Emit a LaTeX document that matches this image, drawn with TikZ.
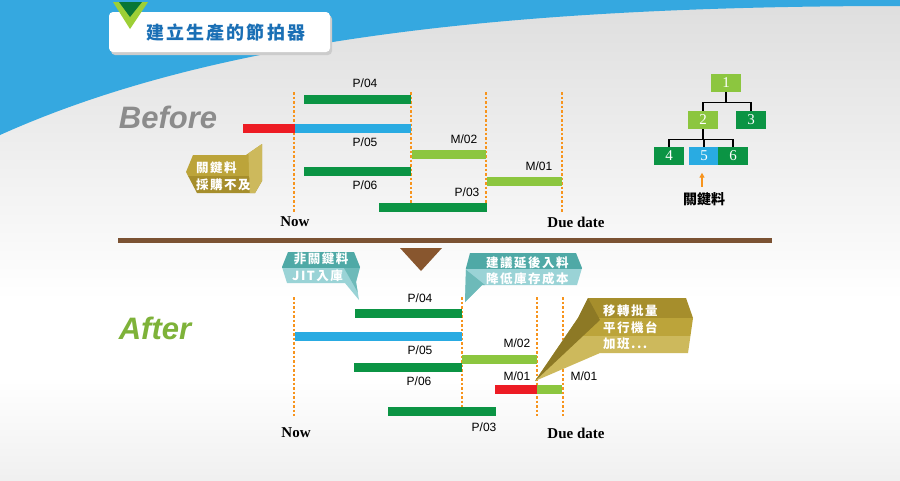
\documentclass[tikz,border=0pt]{standalone}
\usepackage{fontspec}
\setmainfont{Liberation Serif}
\setsansfont{Liberation Sans}
\newfontfamily\cjk{Noto Sans CJK TC}
\newfontfamily\cjkwide[LetterSpace=12]{Noto Sans CJK TC}
\newfontfamily\cjktitle[LetterSpace=12]{Noto Sans CJK TC}
\usetikzlibrary{arrows.meta}
\definecolor{skyblue}{HTML}{35A8E0}
\definecolor{titleblue}{HTML}{1A6FB5}
\definecolor{pgreen}{HTML}{0B9444}
\definecolor{mgreen}{HTML}{8CC63F}
\definecolor{pblue}{HTML}{29ABE2}
\definecolor{pred}{HTML}{ED1C24}
\definecolor{dueorange}{HTML}{F7941D}
\definecolor{sepbrown}{HTML}{7B5233}
\definecolor{goldA}{HTML}{A68E2C}
\definecolor{goldB}{HTML}{BCA43A}
\definecolor{goldC}{HTML}{CDB95C}
\definecolor{tealA}{HTML}{4FA9A6}
\definecolor{tealB}{HTML}{9AD3D6}
\tikzset{
  tick/.style={draw=dueorange, line width=2.4pt, dash pattern=on 2.5pt off 2pt},
  bar/.style={line width=9pt},
  lbl/.style={font=\sffamily\fontsize{12}{14}\selectfont},
  axis/.style={font=\bfseries\fontsize{15}{17}\selectfont},
  part/.style={minimum width=30pt, minimum height=18pt, inner sep=0pt, text=white, font=\fontsize{15}{17}\selectfont},
  tip/.style={text=white, font=\cjkwide\bfseries\fontsize{12.5}{14}\selectfont, inner sep=0pt, anchor=west},
}
\begin{document}
\begin{tikzpicture}[x=1pt, y=-1pt]
  \useasboundingbox (0,0) rectangle (900,480);
  \shade[top color=black!13, bottom color=white] (0,0) rectangle (900,300);
  \fill[white] (0,300) rectangle (900,480);
  \shade[top color=white, bottom color=black!6] (0,380) rectangle (900,480);
  \fill[skyblue] (0,0) -- (900,0) -- (900,6) .. controls (480,6) and (200,45) .. (0,135) -- cycle;

  \fill[black!20, rounded corners=4pt] (111,15) rectangle (332,55);
  \fill[white, rounded corners=4pt] (109,12) rectangle (330,52);
  \fill[mgreen!85!yellow] (113,2) -- (148,2) -- (130,29) -- cycle;
  \fill[pgreen!80!black] (119,2) -- (142,2) -- (130,17) -- cycle;
  \node[text=titleblue, font=\cjktitle\bfseries\fontsize{18}{20}\selectfont, anchor=west, inner sep=0pt] (title) at (146,33) {建立生產的節拍器};

  \node[text=black!45, font=\sffamily\bfseries\itshape\fontsize{31}{34}\selectfont] (before) at (168,117) {Before};
  \node[text=mgreen!90!black, font=\sffamily\bfseries\itshape\fontsize{31}{34}\selectfont] (after) at (155,328) {After};

  % before
  \foreach \x in {294,411,486,562}
    \draw[tick] (\x,92) -- (\x,212);
  \draw[bar, pgreen] (304,99.5) -- (411,99.5);
  \draw[bar, pred] (243,128.5) -- (295,128.5);
  \draw[bar, pblue] (295,128.5) -- (411,128.5);
  \draw[bar, mgreen] (412,154.5) -- (486,154.5);
  \draw[bar, pgreen] (304,171.5) -- (411,171.5);
  \draw[bar, mgreen] (487,181.5) -- (562,181.5);
  \draw[bar, pgreen] (379,207.5) -- (487,207.5);
  \node[lbl] (b04) at (365,83) {P/04};
  \node[lbl] (b05) at (365,142) {P/05};
  \node[lbl] (bm02) at (464,139) {M/02};
  \node[lbl] (b06) at (365,185) {P/06};
  \node[lbl] (bm01) at (539,166) {M/01};
  \node[lbl] (b03) at (467,192) {P/03};
  \node[axis] (bnow) at (295,222) {Now};
  \node[axis] (bdue) at (576,222) {Due date};

  \begin{scope}
    \clip (193,155) -- (246,155) -- (262,144) -- (262,181) -- (255,193) -- (197,193) -- (186,172) -- cycle;
    \fill[goldB] (180,140) rectangle (270,176);
    \fill[goldA] (180,176) rectangle (270,200);
    \fill[goldC] (248,140) -- (270,140) -- (270,200) -- (250,200) -- cycle;
  \end{scope}
  \node[tip] (bnote1) at (196,168) {關鍵料};
  \node[tip] (bnote2) at (196,185) {採購不及};

  \node[part, fill=mgreen] (t1) at (726,83) {1};
  \node[part, fill=mgreen] (t2) at (703,120) {2};
  \node[part, fill=pgreen] (t3) at (751,120) {3};
  \node[part, fill=pgreen] (t4) at (669,156) {4};
  \node[part, fill=pblue] (t5) at (704,156) {5};
  \node[part, fill=pgreen] (t6) at (733,156) {6};
  \draw[line width=1.3pt] (t1.south) -- ++(0,10) coordinate (j1);
  \draw[line width=1.3pt] (j1) -| (t2.north);
  \draw[line width=1.3pt] (j1) -| (t3.north);
  \draw[line width=1.3pt] (t2.south) -- ++(0,10) coordinate (j2);
  \draw[line width=1.3pt] (j2) -| (t4.north);
  \draw[line width=1.3pt] (j2) -| (t5.north);
  \draw[line width=1.3pt] (j2) -| (t6.north);
  \node[font=\cjk\bfseries\fontsize{14}{16}\selectfont] (key) at (704,199) {關鍵料};
  \draw[-{Triangle[length=5pt,width=5pt]}, dueorange, line width=1.8pt] (key.north -| t5.south) ++(-2,-2) -- ++(0,-14);

  \draw[sepbrown, line width=5pt] (118,240) -- (772,240);
  \fill[sepbrown!90!orange] (400,248) -- (442,248) -- (421,271) -- cycle;

  % after
  \foreach \x in {294,462,537,563}
    \draw[tick] (\x,297) -- (\x,416);
  \draw[bar, pgreen] (355,313) -- (462,313);
  \draw[bar, pblue] (295,336.5) -- (462,336.5);
  \draw[bar, mgreen] (462,359.5) -- (537,359.5);
  \draw[bar, pgreen] (354,367.5) -- (462,367.5);
  \draw[bar, pred] (495,389.5) -- (537,389.5);
  \draw[bar, mgreen] (537,389.5) -- (562,389.5);
  \draw[bar, pgreen] (388,411.5) -- (496,411.5);
  \node[lbl] (a04) at (420,298) {P/04};
  \node[lbl] (a05) at (420,350) {P/05};
  \node[lbl] (am02) at (517,343) {M/02};
  \node[lbl] (a06) at (419,381) {P/06};
  \node[lbl] (am01) at (517,376) {M/01};
  \node[lbl] (am01b) at (584,376) {M/01};
  \node[lbl] (a03) at (484,427) {P/03};
  \node[axis] (anow) at (296,433) {Now};
  \node[axis] (adue) at (576,433) {Due date};

  \begin{scope}
    \clip (288,252) -- (354,252) -- (360,267) -- (356,282) -- (359,300) -- (345,283) -- (287,283) -- (282,267) -- cycle;
    \fill[tealA] (280,248) rectangle (365,268);
    \fill[tealB] (280,268) rectangle (365,305);
    \fill[tealA!60!tealB] (344,268) -- (365,268) -- (365,305) -- cycle;
  \end{scope}
  \node[tip, anchor=center] (jit1) at (321,259) {非關鍵料};
  \node[tip] (jit2) at (292,276) {JIT入庫};

  \begin{scope}
    \clip (470,253) -- (576,253) -- (582,268) -- (577,285) -- (482,285) -- (465,302) -- (466,268) -- cycle;
    \fill[tealA] (460,248) rectangle (590,269);
    \fill[tealB] (460,269) rectangle (590,305);
    \fill[tealA!60!tealB] (465,269) -- (485,285) -- (465,305) -- cycle;
  \end{scope}
  \node[tip] (late1) at (486,263) {建議延後入料};
  \node[tip] (late2) at (486,279) {降低庫存成本};

  \begin{scope}
    \clip (588,298) -- (686,298) -- (693,318) -- (688,353) -- (600,353) -- (535,381) -- (578,318) -- cycle;
    \fill[goldA] (530,290) rectangle (700,318);
    \fill[goldB] (530,318) rectangle (700,336);
    \fill[goldC] (530,336) rectangle (700,390);
    \fill[goldA!85!black] (588,298) -- (578,318) -- (535,381) -- (600,320) -- cycle;
  \end{scope}
  \node[tip] (fix1) at (603,311) {移轉批量};
  \node[tip] (fix2) at (603,328) {平行機台};
  \node[tip] (fix3) at (603,344) {加班...};
\end{tikzpicture}
\end{document}
